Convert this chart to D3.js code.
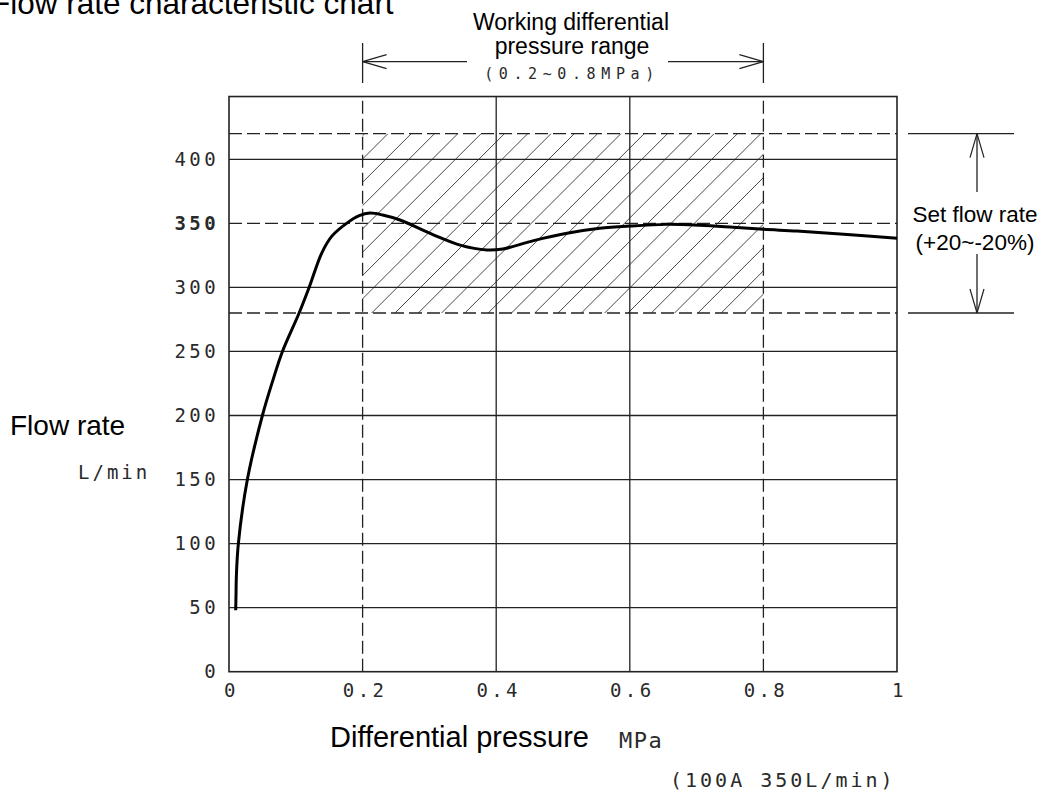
<!DOCTYPE html>
<html>
<head>
<meta charset="utf-8">
<script src="https://cdn.jsdelivr.net/npm/d3@7/dist/d3.min.js"></script>
<style>
  html, body { margin: 0; padding: 0; background: #fff; }
  .canvas { width: 1047px; height: 795px; }
  .sans { font-family: 'Liberation Sans', Arial, sans-serif; fill: #000; }
  .cad { font-family: 'DejaVu Sans Mono', monospace; fill: #2a2a2a; }
</style>
</head>
<body>
<div class="canvas"></div>
<script>
// differential pressure (MPa) / flow rate (L/min)
const pressure = [0.01, 0.0105, 0.011, 0.014, 0.0275, 0.05, 0.066, 0.08, 0.105, 0.12, 0.139, 0.154,
  0.176, 0.195, 0.211, 0.23, 0.256, 0.306, 0.346, 0.386, 0.41, 0.456, 0.506, 0.555, 0.6, 0.655,
  0.705, 0.755, 0.8, 0.85, 0.915, 1.0];
const flow = [48, 60, 74, 100, 150, 200, 228, 250, 280, 300, 327, 340,
  350, 356, 358, 356.5, 352.6, 341, 333, 329.2, 330, 336.5, 342.2, 346.1, 347.9, 349.2,
  348.5, 346.9, 345.3, 344, 341.7, 338.3];

const xTicks = [0, 0.2, 0.4, 0.6, 0.8, 1];
const xTickLabels = ['0', '0.2', '0.4', '0.6', '0.8', '1'];
const yTicks = [0, 50, 100, 150, 200, 250, 300, 350, 400];
const yMax = 449;
const setFlow = 350;
const flowBand = [280, 420];
const workingRange = [0.2, 0.8];

const x = d3.scaleLinear().domain([0, 1]).range([229, 897]);
const y = d3.scaleLinear().domain([0, 400]).range([671.7, 159.3]);

const svg = d3
  .select('.canvas')
  .append('svg')
  .attr('width', 1047)
  .attr('height', 795);

const lineColor = '#222';
const dash = '13,5';

const drawHatch = () => {
  svg
    .append('clipPath')
    .attr('id', 'bandClip')
    .append('rect')
    .attr('x', x(workingRange[0]))
    .attr('y', y(flowBand[1]))
    .attr('width', x(workingRange[1]) - x(workingRange[0]))
    .attr('height', y(flowBand[0]) - y(flowBand[1]));

  const left = x(workingRange[0]);
  const top = y(flowBand[1]);
  const w = x(workingRange[1]) - left;
  const h = y(flowBand[0]) - top;
  const step = 23.3;
  const offsets = d3.range(2, w + h, step);

  svg
    .append('g')
    .attr('clip-path', 'url(#bandClip)')
    .selectAll('line')
    .data(offsets)
    .join('line')
    .attr('x1', d => left + d + 2)
    .attr('y1', top - 2)
    .attr('x2', d => left + d - h - 2)
    .attr('y2', top + h + 2)
    .attr('stroke', '#333')
    .attr('stroke-width', 0.9);
};

const drawGrid = () => {
  const grid = svg.append('g').attr('id', 'grid');

  grid
    .selectAll('.hgrid')
    .data(yTicks.filter(d => d > 0 && d !== setFlow))
    .join('line')
    .attr('class', 'hgrid')
    .attr('x1', x(0))
    .attr('x2', x(1))
    .attr('y1', d => y(d))
    .attr('y2', d => y(d))
    .attr('stroke', lineColor)
    .attr('stroke-width', 1.3);

  grid
    .selectAll('.vgrid')
    .data(xTicks.filter(d => d > 0 && d < 1 && !workingRange.includes(d)))
    .join('line')
    .attr('class', 'vgrid')
    .attr('x1', d => x(d))
    .attr('x2', d => x(d))
    .attr('y1', y(0))
    .attr('y2', y(yMax))
    .attr('stroke', lineColor)
    .attr('stroke-width', 1.3);

  grid
    .selectAll('.hdash')
    .data([flowBand[0], setFlow, flowBand[1]])
    .join('line')
    .attr('class', 'hdash')
    .attr('x1', x(0))
    .attr('x2', x(1))
    .attr('y1', d => y(d))
    .attr('y2', d => y(d))
    .attr('stroke', lineColor)
    .attr('stroke-width', 1.3)
    .attr('stroke-dasharray', dash);

  grid
    .selectAll('.vdash')
    .data(workingRange)
    .join('line')
    .attr('class', 'vdash')
    .attr('x1', d => x(d))
    .attr('x2', d => x(d))
    .attr('y1', y(0))
    .attr('y2', y(yMax))
    .attr('stroke', lineColor)
    .attr('stroke-width', 1.3)
    .attr('stroke-dasharray', dash);

  svg
    .append('rect')
    .attr('x', x(0))
    .attr('y', y(yMax))
    .attr('width', x(1) - x(0))
    .attr('height', y(0) - y(yMax))
    .attr('fill', 'none')
    .attr('stroke', lineColor)
    .attr('stroke-width', 1.6);
};

const drawCurve = () => {
  const line = d3
    .line()
    .x(d => x(d[0]))
    .y(d => y(d[1]))
    .curve(d3.curveCatmullRom.alpha(0.5));

  svg
    .append('path')
    .datum(d3.zip(pressure, flow))
    .attr('d', line)
    .attr('fill', 'none')
    .attr('stroke', '#000')
    .attr('stroke-width', 3)
    .attr('stroke-linejoin', 'round');
};

const drawAxes = () => {
  const yAxis = svg
    .append('g')
    .attr('transform', `translate(${x(0) - 10},0)`)
    .call(d3.axisLeft(y).tickValues(yTicks).tickSize(0).tickPadding(0));
  yAxis.select('.domain').remove();
  yAxis
    .selectAll('text')
    .attr('class', 'cad')
    .attr('font-size', 19)
    .attr('letter-spacing', 3.4)
    .attr('font-weight', d => (d === setFlow ? 'bold' : 'normal'))
    .attr('fill', d => (d === setFlow ? '#000' : '#2a2a2a'))
    .style('font-family', "'DejaVu Sans Mono', monospace");

  const xAxis = svg
    .append('g')
    .attr('transform', `translate(2,${y(0) + 12})`)
    .call(
      d3
        .axisBottom(x)
        .tickValues(xTicks)
        .tickFormat((d, i) => xTickLabels[i])
        .tickSize(0)
        .tickPadding(0)
    );
  xAxis.select('.domain').remove();
  xAxis
    .selectAll('text')
    .attr('font-size', 19)
    .attr('letter-spacing', 3.4)
    .attr('fill', '#2a2a2a')
    .style('font-family', "'DejaVu Sans Mono', monospace");
};

const arrowHead = (g, tx, ty, dx, dy) => {
  // open arrow head, two strokes back from the tip
  const len = 24;
  const half = 7;
  const px = -dy;
  const py = dx;
  [1, -1].forEach(s => {
    g.append('line')
      .attr('x1', tx)
      .attr('y1', ty)
      .attr('x2', tx - dx * len + px * half * s)
      .attr('y2', ty - dy * len + py * half * s)
      .attr('stroke', lineColor)
      .attr('stroke-width', 1.2);
  });
};

const drawAnnotations = () => {
  const g = svg.append('g').attr('id', 'annotations');
  const x0 = x(workingRange[0]);
  const x1 = x(workingRange[1]);
  const arrowY = 61.7;

  workingRange.forEach(d => {
    g.append('line')
      .attr('x1', x(d))
      .attr('x2', x(d))
      .attr('y1', 43)
      .attr('y2', 83)
      .attr('stroke', lineColor)
      .attr('stroke-width', 1.3);
  });
  g.append('line').attr('x1', x0).attr('x2', 467).attr('y1', arrowY).attr('y2', arrowY)
    .attr('stroke', lineColor).attr('stroke-width', 1.3);
  g.append('line').attr('x1', 668).attr('x2', x1).attr('y1', arrowY).attr('y2', arrowY)
    .attr('stroke', lineColor).attr('stroke-width', 1.3);
  arrowHead(g, x0, arrowY, -1, 0);
  arrowHead(g, x1, arrowY, 1, 0);

  g.append('text').attr('class', 'sans').attr('x', 571).attr('y', 30)
    .attr('text-anchor', 'middle').attr('font-size', 23).text('Working differential');
  g.append('text').attr('class', 'sans').attr('x', 572).attr('y', 54)
    .attr('text-anchor', 'middle').attr('font-size', 23).text('pressure range');
  g.append('text').attr('class', 'cad').attr('x', 572).attr('y', 79)
    .attr('text-anchor', 'middle').attr('font-size', 15).attr('letter-spacing', 5.6)
    .text('(0.2~0.8MPa)');

  // set flow rate band marker on the right
  const bx = 977;
  flowBand.forEach(d => {
    g.append('line')
      .attr('x1', 908)
      .attr('x2', 1014)
      .attr('y1', y(d))
      .attr('y2', y(d))
      .attr('stroke', lineColor)
      .attr('stroke-width', 1.3);
  });
  g.append('line').attr('x1', bx).attr('x2', bx).attr('y1', y(flowBand[1])).attr('y2', 192)
    .attr('stroke', lineColor).attr('stroke-width', 1.3);
  g.append('line').attr('x1', bx).attr('x2', bx).attr('y1', 254).attr('y2', y(flowBand[0]))
    .attr('stroke', lineColor).attr('stroke-width', 1.3);
  arrowHead(g, bx, y(flowBand[1]), 0, -1);
  arrowHead(g, bx, y(flowBand[0]), 0, 1);

  g.append('text').attr('class', 'sans').attr('x', 975).attr('y', 222)
    .attr('text-anchor', 'middle').attr('font-size', 22.5).text('Set flow rate');
  g.append('text').attr('class', 'sans').attr('x', 975).attr('y', 250)
    .attr('text-anchor', 'middle').attr('font-size', 22.5).text('(+20~-20%)');
};

const drawTitles = () => {
  svg.append('text').attr('class', 'sans').attr('x', -9).attr('y', 14)
    .attr('font-size', 31.5).text('Flow rate characteristic chart');
  svg.append('text').attr('class', 'sans').attr('x', 10).attr('y', 435)
    .attr('font-size', 28).text('Flow rate');
  svg.append('text').attr('class', 'cad').attr('x', 78).attr('y', 479)
    .attr('font-size', 19).attr('letter-spacing', 3).text('L/min');
  svg.append('text').attr('class', 'sans').attr('x', 330).attr('y', 747)
    .attr('font-size', 29).text('Differential pressure');
  svg.append('text').attr('class', 'cad').attr('x', 619).attr('y', 748)
    .attr('font-size', 22).attr('letter-spacing', 1.5).text('MPa');
  svg.append('text').attr('class', 'cad').attr('x', 670).attr('y', 787)
    .attr('font-size', 20).attr('letter-spacing', 3).text('(100A 350L/min)');
};

drawHatch();
drawGrid();
drawCurve();
drawAxes();
drawAnnotations();
drawTitles();
</script>
</body>
</html>
